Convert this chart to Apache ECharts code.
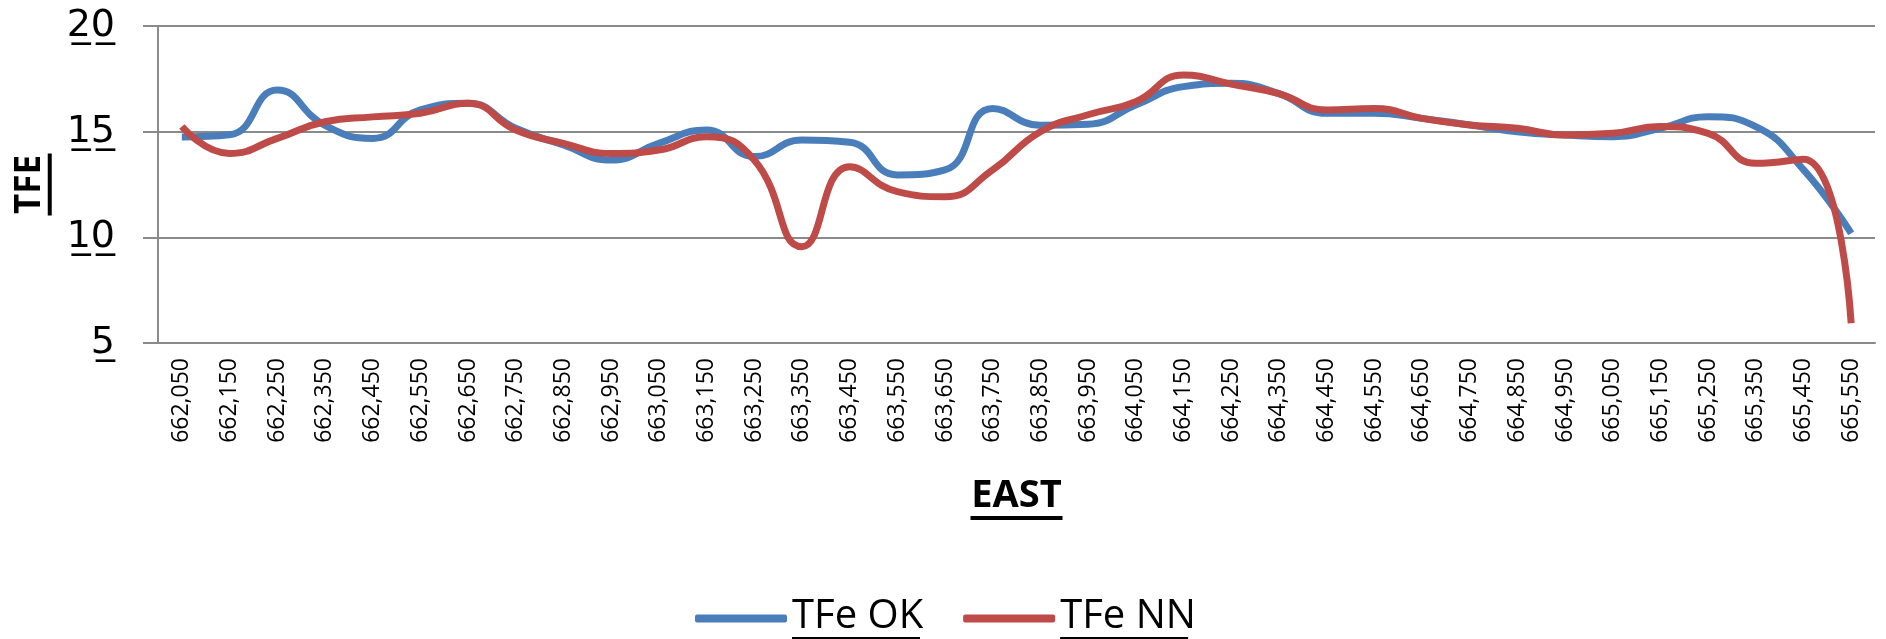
<!DOCTYPE html>
<html>
<head>
<meta charset="utf-8">
<title>TFe OK vs TFe NN along EAST</title>
<script src="https://cdn.jsdelivr.net/npm/echarts@6/dist/echarts.min.js"></script>
<style>
  html, body { margin: 0; padding: 0; background: #ffffff; overflow: hidden; }
  #chart { width: 1886px; height: 639px; }
</style>
</head>
<body>
<div id="chart"></div>
<script>
// EAST coordinates (category axis)
const eastLabels = [
  '662,050', '662,150', '662,250', '662,350', '662,450', '662,550', '662,650', '662,750', '662,850', '662,950',
  '663,050', '663,150', '663,250', '663,350', '663,450', '663,550', '663,650', '663,750', '663,850', '663,950',
  '664,050', '664,150', '664,250', '664,350', '664,450', '664,550', '664,650', '664,750', '664,850', '664,950',
  '665,050', '665,150', '665,250', '665,350', '665,450', '665,550'
];

// TFe estimated by ordinary kriging
const tfeOK = [
  14.75, 14.85, 16.97, 15.3, 14.68, 16.03, 16.34, 15.16, 14.37, 13.66,
  14.45, 15.08, 13.82, 14.6, 14.5, 12.95, 13.19, 16.1, 15.3, 15.35,
  16.26, 17.13, 17.29, 16.8, 15.87, 15.87, 15.63, 15.32, 15.0, 14.84,
  14.76, 15.16, 15.71, 15.24, 13.2, 10.19
];

// TFe estimated by nearest neighbour
const tfeNN = [
  15.24, 13.97, 14.68, 15.47, 15.7, 15.87, 16.34, 15.08, 14.45, 13.97,
  14.13, 14.76, 13.66, 9.56, 13.34, 12.16, 11.92, 13.19, 15.0, 15.8,
  16.42, 17.68, 17.25, 16.8, 16.03, 16.1, 15.63, 15.32, 15.16, 14.84,
  14.92, 15.24, 14.92, 13.5, 13.7, 5.93
];

// Value axis ticks
const yMin = 5;
const yMax = 20;
const yStep = 5;

const seriesNames = ['TFe OK', 'TFe NN'];
const seriesColors = ['#4A7EBB', '#BE4B48'];

const gridColor = '#8a8a8a';
const font = "'Open Sans', 'Liberation Sans', sans-serif";

// a thin filled bar used as an underline beneath rich text
const bar = (w, h) => ({ width: w, height: h, backgroundColor: '#000' });
// underline every character with a combining low line
const underlined = s => String(s).split('').map(c => c + '\u0332').join('');

const chart = echarts.init(document.getElementById('chart'), null, { renderer: 'canvas' });

chart.setOption({
  backgroundColor: '#ffffff',
  animation: false,
  grid: { left: 158, right: 11, top: 26, bottom: 296, containLabel: false },
  legend: {
    data: seriesNames,
    left: 690,
    top: 592,
    icon: 'roundRect',
    itemWidth: 92,
    itemHeight: 8,
    itemGap: 40,
    formatter: name => `{n|${name}}\n{u|}`,
    textStyle: {
      fontFamily: font,
      color: '#000',
      rich: {
        n: { fontFamily: font, fontSize: 40, lineHeight: 40, color: '#000' },
        u: bar(128, 3)
      }
    }
  },
  xAxis: {
    type: 'category',
    data: eastLabels,
    boundaryGap: true,
    name: '{t|EAST}\n{u|}',
    nameLocation: 'middle',
    nameGap: 133,
    nameTextStyle: {
      rich: {
        t: { fontFamily: font, fontSize: 38, fontWeight: 'bold', lineHeight: 40, color: '#000' },
        u: bar(92, 4)
      }
    },
    axisLine: { show: true, lineStyle: { color: gridColor, width: 2 } },
    axisTick: { show: false },
    axisLabel: {
      interval: 0,
      rotate: 90,
      margin: 15,
      fontFamily: font,
      fontSize: 23,
      color: '#000'
    },
    splitLine: { show: false }
  },
  yAxis: {
    type: 'value',
    min: yMin,
    max: yMax,
    interval: yStep,
    name: '{t|TFE}\n{u|}',
    nameLocation: 'middle',
    nameRotate: 90,
    nameGap: 100,
    nameTextStyle: {
      rich: {
        t: { fontFamily: font, fontSize: 35, fontWeight: 'bold', lineHeight: 36, color: '#000' },
        u: bar(62, 4)
      }
    },
    axisLine: { show: true, lineStyle: { color: gridColor, width: 2 } },
    axisTick: { show: true, length: 15, lineStyle: { color: gridColor, width: 2 } },
    axisLabel: {
      margin: 43,
      fontFamily: "'DejaVu Sans', sans-serif",
      fontSize: 38,
      color: '#000',
      formatter: v => underlined(v)
    },
    splitLine: { show: true, lineStyle: { color: gridColor, width: 2 } }
  },
  series: [
    {
      name: seriesNames[0],
      type: 'line',
      data: tfeOK,
      smooth: 0.5,
      symbol: 'none',
      color: seriesColors[0],
      lineStyle: { color: seriesColors[0], width: 7 },
      z: 2
    },
    {
      name: seriesNames[1],
      type: 'line',
      data: tfeNN,
      smooth: 0.5,
      symbol: 'none',
      color: seriesColors[1],
      lineStyle: { color: seriesColors[1], width: 7 },
      z: 3
    }
  ]
});
</script>
</body>
</html>
